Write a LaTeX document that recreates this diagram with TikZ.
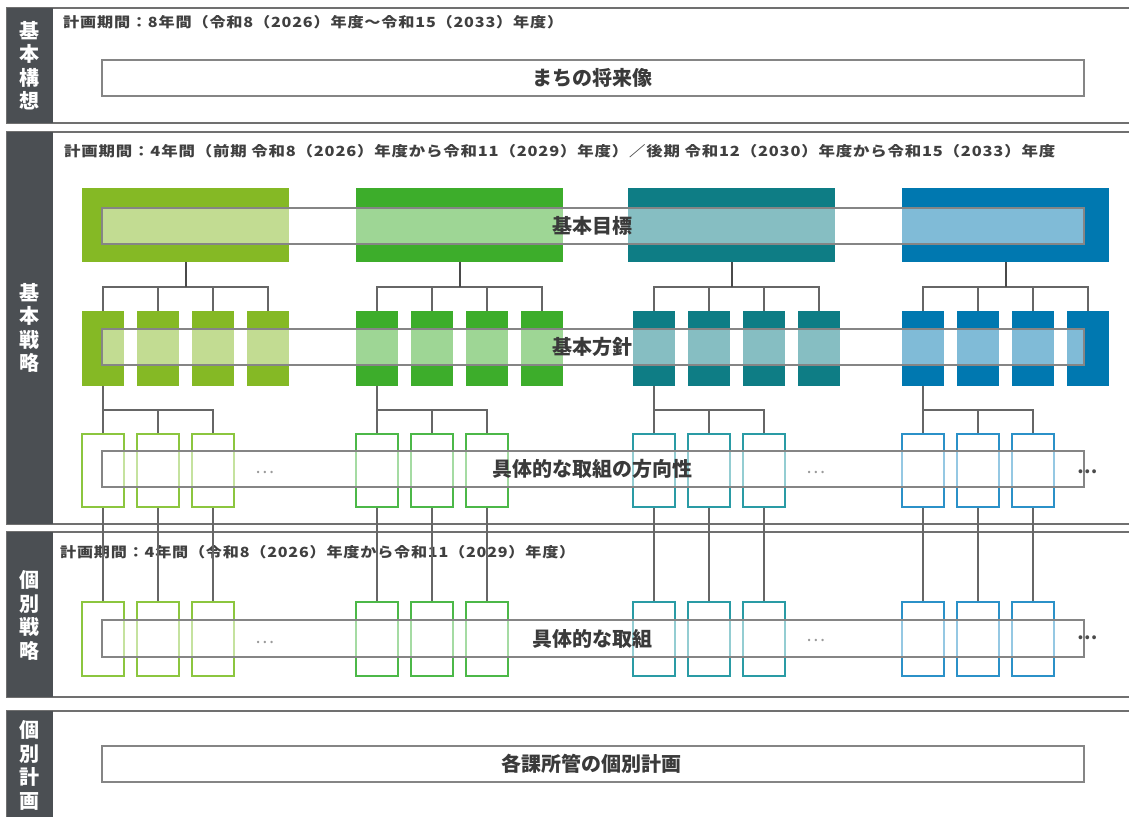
\documentclass[tikz,border=0pt]{standalone}
\usepackage{graphicx}
\usepackage{fontspec}
\setmainfont{Noto Sans CJK JP}
\newfontfamily\jpls{Noto Sans CJK JP}[LetterSpace=5]
\pgfdeclarelayer{back}
\pgfdeclarelayer{conns}
\pgfdeclarelayer{front}
\pgfsetlayers{back,conns,main,front}
\definecolor{c1}{HTML}{85B925}
\definecolor{c2}{HTML}{3DAD2B}
\definecolor{c3}{HTML}{0E7D85}
\definecolor{c4}{HTML}{0078B0}
\definecolor{o1}{HTML}{8CC63F}
\definecolor{o2}{HTML}{4CB848}
\definecolor{o3}{HTML}{2A9BA5}
\definecolor{o4}{HTML}{2B91C8}
\definecolor{secgray}{HTML}{707070}
\definecolor{bargray}{HTML}{4B4F53}
\definecolor{txtgray}{HTML}{404040}
\definecolor{lblgray}{HTML}{3A3A3A}
\definecolor{widegray}{HTML}{858585}
\definecolor{conngray}{HTML}{666666}
\definecolor{stemgray}{HTML}{4A4A4A}
\definecolor{dotgray}{HTML}{9A9A9A}
\tikzset{
  sect/.style={draw=secgray, line width=1.5pt, fill=white, inner sep=0pt, outer sep=0pt, anchor=north west},
  sidebar/.style={fill=bargray, draw=none, inner sep=0pt, outer sep=0pt, anchor=north west, minimum width=46pt},
  barlabel/.style={text=white, font=\fontsize{20}{23.5}\selectfont\bfseries, align=center, inner sep=0pt},
  period/.style={text=txtgray, font=\fontsize{14}{16}\selectfont\jpls\bfseries, inner sep=0pt, anchor=west},
  goal/.style={draw=none, inner sep=0pt, outer sep=0pt, anchor=north west, minimum width=207pt, minimum height=74pt},
  subbox/.style={draw=none, inner sep=0pt, outer sep=0pt, anchor=north west, minimum width=42pt, minimum height=75pt},
  dirbox/.style={fill=white, line width=1.5pt, inner sep=0pt, outer sep=0pt, anchor=north west, minimum width=42pt, minimum height=73pt},
  actbox/.style={fill=white, line width=1.5pt, inner sep=0pt, outer sep=0pt, anchor=north west, minimum width=42pt, minimum height=74pt},
  widebox/.style={draw=widegray, line width=1.5pt, fill=white, fill opacity=0.5, inner sep=0pt, outer sep=0pt, anchor=north west, minimum width=982pt, minimum height=36pt},
  solidbox/.style={draw=widegray, line width=1.5pt, fill=white, inner sep=0pt, outer sep=0pt, anchor=north west, minimum width=982pt, minimum height=36pt},
  lbl/.style={text=lblgray, font=\fontsize{20}{24}\selectfont\bfseries, inner sep=0pt},
  ell/.style={text=dotgray, font=\fontsize{18}{20}\selectfont, inner sep=0pt},
  ellb/.style={text=stemgray, font=\fontsize{18}{20}\selectfont\bfseries, inner sep=0pt},
  conn/.style={draw=conngray, line width=1.4pt},
  stem/.style={draw=stemgray, line width=2pt}
}
\begin{document}
\begin{tikzpicture}[x=1pt,y=-1pt]
\useasboundingbox (0,0) rectangle (1129,816);

% ---------- sections ----------
\begin{pgfonlayer}{back}
\fill[white] (0,0) rectangle (1129,816);
\node[sect, minimum width=1135pt, minimum height=115pt] (sec1) at (7,8) {};
\node[sect, minimum width=1135pt, minimum height=392pt] (sec2) at (7,132) {};
\node[sect, minimum width=1135pt, minimum height=165pt] (sec3) at (7,532) {};
\node[sect, minimum width=1135pt, minimum height=119pt] (sec4) at (7,711) {};
\node[sidebar, minimum height=115pt] (bar1) at (7,8) {};
\node[sidebar, minimum height=392pt] (bar2) at (7,132) {};
\node[sidebar, minimum height=165pt] (bar3) at (7,532) {};
\node[sidebar, minimum height=119pt] (bar4) at (7,711) {};
\node[barlabel] (bl1) at ([xshift=-0.5pt]bar1.center) {基\\本\\構\\想};
\node[barlabel] (bl2) at ([xshift=-0.5pt]bar2.center) {基\\本\\戦\\略};
\node[barlabel] (bl3) at ([xshift=-0.5pt,yshift=-1pt]bar3.center) {個\\別\\戦\\略};
\node[barlabel] (bl4) at ([xshift=-0.5pt,yshift=5pt]bar4.center) {個\\別\\計\\画};
\node[period] (p1) at (63,22) {\resizebox{500pt}{\height}{計画期間：8年間（令和8（2026）年度～令和15（2033）年度）}};
\node[period] (p2) at (64,151) {\resizebox{991pt}{\height}{計画期間：4年間（前期 令和8（2026）年度から令和11（2029）年度）／後期 令和12（2030）年度から令和15（2033）年度}};
\node[period] (p3) at (60,552) {\resizebox{515pt}{\height}{計画期間：4年間（令和8（2026）年度から令和11（2029）年度）}};
\end{pgfonlayer}

% ---------- boxes ----------
\foreach \g/\gx/\sx/\col/\ocol in {1/82/82/c1/o1, 2/356/356/c2/o2, 3/628/633/c3/o3, 4/902/902/c4/o4} {
  \node[goal, fill=\col] (g\g) at (\gx,188) {};
  \foreach \k/\off in {1/0,2/55,3/110,4/165} {
    \node[subbox, fill=\col] (s\g\k) at (\sx+\off,311) {};
  }
  \foreach \k/\off in {1/0,2/55,3/110} {
    \node[dirbox, draw=\ocol] (d\g\k) at (\sx+\off,434) {};
    \node[actbox, draw=\ocol] (a\g\k) at (\sx+\off,602) {};
  }
}

% ---------- connectors ----------
\begin{pgfonlayer}{conns}
\foreach \g in {1,2,3,4} {
  \foreach \k in {1,2,3,4} {
    \draw[conn] (g\g.south) -- ++(0,25) -| (s\g\k.north);
  }
  \draw[stem] (g\g.south) -- ++(0,25);
  \draw[stem] (s\g1.south) -- ++(0,24);
  \foreach \k in {1,2,3} {
    \draw[conn] (s\g1.south) -- ++(0,24) -| (d\g\k.north);
    \draw[conn] (d\g\k.south) -- (a\g\k.north);
  }
}
\end{pgfonlayer}

% ---------- wide label boxes ----------
\begin{pgfonlayer}{front}
\node[solidbox] (w1) at (102,60) {};
\node[widebox] (w2) at (102,208) {};
\node[widebox] (w3) at (102,329) {};
\node[widebox] (w4) at (102,451) {};
\node[widebox, minimum height=37pt] (w5) at (102,620) {};
\node[solidbox] (w6) at (102,746) {};
\node[lbl] (t1) at ([xshift=-1pt]w1.center) {まちの将来像};
\node[lbl] (t2) at ([xshift=-1pt]w2.center) {基本目標};
\node[lbl] (t3) at ([xshift=-1pt]w3.center) {基本方針};
\node[lbl] (t4) at ([xshift=-1pt]w4.center) {具体的な取組の方向性};
\node[lbl] (t5) at ([xshift=-1pt]w5.center) {具体的な取組};
\node[lbl] (t6) at ([xshift=-2pt]w6.center) {各課所管の個別計画};
\node[ell] (e1) at (265,472) {…};
\node[ell] (e2) at (816,472) {…};
\node[ellb] (e3) at (1088,472) {…};
\node[ell] (e4) at (265,642) {…};
\node[ell] (e5) at (816,640) {…};
\node[ellb] (e6) at (1088,638) {…};
\end{pgfonlayer}
\end{tikzpicture}
\end{document}
